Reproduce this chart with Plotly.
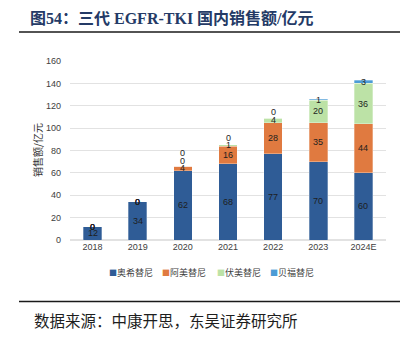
import plotly.graph_objects as go

# Domestic sales of third-generation EGFR-TKIs (100 million CNY)
years = ["2018", "2019", "2020", "2021", "2022", "2023", "2024E"]
osimertinib = [12, 34, 62, 68, 77, 70, 60]     # 奥希替尼
almonertinib = [0, 0, 4, 16, 28, 35, 44]       # 阿美替尼
furmonertinib = [0, 0, 0, 1, 4, 20, 36]        # 伏美替尼
befotertinib = [0, 0, 0, 0, 0, 1, 3]           # 贝福替尼

series_names = ["奥希替尼", "阿美替尼", "伏美替尼", "贝福替尼"]
series_values = [osimertinib, almonertinib, furmonertinib, befotertinib]
colors = ["#2F5C96", "#E07A40", "#BCE2A6", "#4C9CD6"]

W, H = 407, 346
L, R, T, B = 70, 21, 61, 106
PW, PH = W - L - R, H - T - B


def px(x):
    return (x - L) / PW


def py(y):
    return 1 - (y - T) / PH


xpos = list(range(len(years)))

fig = go.Figure()
for name, vals, col in zip(series_names, series_values, colors):
    fig.add_trace(go.Bar(
        x=xpos, y=vals, name=name, width=0.41,
        marker=dict(color=col, line=dict(color="rgba(255,255,255,0.5)", width=0.6)),
        showlegend=False, customdata=years,
        hovertemplate="%{customdata}<br>" + name + ": %{y}<extra></extra>",
    ))

# Value labels: centred in each segment, nudged upward when they collide
annotations = []
for i in xpos:
    base = 0.0
    placed = []  # (label y, whether it blocks later labels)
    for vals in series_values:
        v = vals[i]
        y = base + v / 2
        pushed = False
        moved = True
        while moved:
            moved = False
            for (ly, blocks) in placed:
                if blocks and abs(y - ly) < 5:
                    y = ly + 7
                    pushed = True
                    moved = True
        placed.append((y, v != 0 or pushed))
        annotations.append(dict(
            x=i, y=y, xref="x", yref="y", text=str(v), showarrow=False,
            font=dict(size=9, color="#1E1E1E", family="Liberation Sans, Arial"),
        ))
        base += v

# Legend drawn as a compact row of coloured squares
legend_x = [107, 160, 215, 268]
for name, col, lx in zip(series_names, colors, legend_x):
    annotations.append(dict(
        x=px(lx), y=py(272), xref="paper", yref="paper", xanchor="left",
        yanchor="middle", showarrow=False,
        text=f"<span style='color:{col};font-size:8px'>■</span>{name}",
        font=dict(size=9, color="#404040", family="Noto Sans CJK SC"),
    ))

# Title and source note
annotations.append(dict(
    x=px(28), y=py(18), xref="paper", yref="paper", xanchor="left",
    yanchor="middle", showarrow=False,
    text="<b>图54：三代 EGFR-TKI 国内销售额/亿元</b>",
    font=dict(size=16, color="#243A66", family="Liberation Serif, Noto Sans CJK SC"),
))
annotations.append(dict(
    x=px(32), y=py(320), xref="paper", yref="paper", xanchor="left",
    yanchor="middle", showarrow=False,
    text="数据来源：中康开思，东吴证券研究所",
    font=dict(size=15.5, color="#1E1E1E", family="Noto Sans CJK SC"),
))
annotations.append(dict(
    x=px(37), y=py(150), xref="paper", yref="paper", xanchor="center",
    yanchor="middle", showarrow=False, textangle=-90,
    text="销售额/亿元",
    font=dict(size=10, color="#333333", family="Noto Sans CJK SC"),
))

shapes = [
    dict(type="line", xref="paper", yref="paper", x0=px(19), x1=px(400),
         y0=py(32), y1=py(32), line=dict(color="#1A1A1A", width=1.5)),
    dict(type="line", xref="paper", yref="paper", x0=px(19), x1=px(400),
         y0=py(301.5), y1=py(301.5), line=dict(color="#1A1A1A", width=1.5)),
]

fig.update_layout(
    width=W, height=H, barmode="stack",
    margin=dict(l=L, r=R, t=T, b=B, pad=0),
    paper_bgcolor="white", plot_bgcolor="white",
    annotations=annotations, shapes=shapes,
    font=dict(family="Liberation Sans, Arial", size=9, color="#404040"),
    xaxis=dict(range=[-0.5, len(years) - 0.5], tickmode="array", tickvals=xpos,
               ticktext=years, showgrid=False, showline=False, zeroline=False,
               ticks="", tickfont=dict(size=9, color="#404040")),
    yaxis=dict(range=[0, 160], dtick=20, showgrid=True, gridcolor="#E2E2E2",
               gridwidth=1, zeroline=True, zerolinecolor="#E2E2E2", showline=False,
               ticks="", ticklabelstandoff=8, tickfont=dict(size=9, color="#404040")),
)

fig.write_html("out.html")
